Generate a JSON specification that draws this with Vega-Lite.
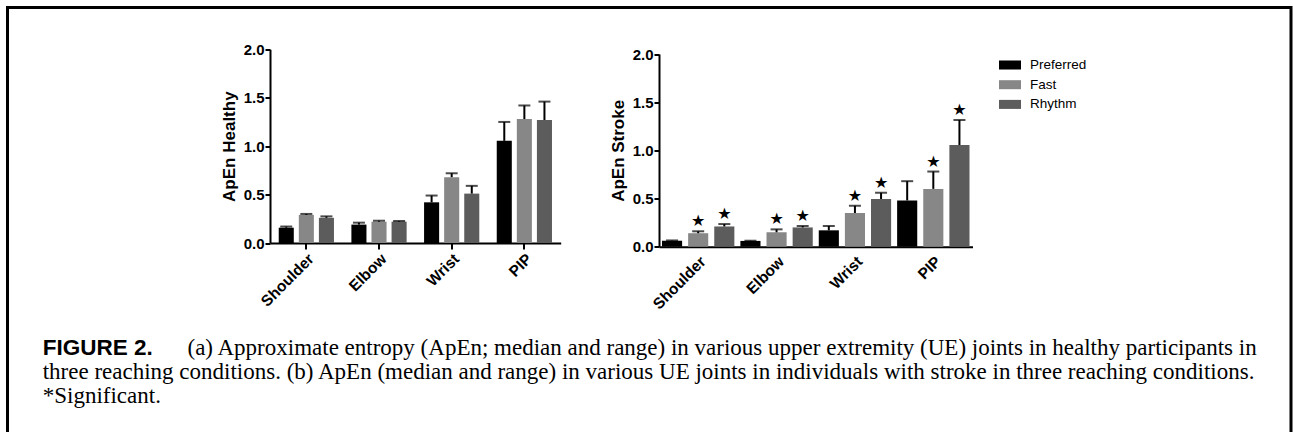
{
  "$schema": "https://vega.github.io/schema/vega-lite/v6.json",
  "width": 1283.5,
  "height": 428,
  "autosize": "none",
  "padding": {"left": 7.5, "top": 7.5, "right": 2, "bottom": 0},
  "background": "white",
  "config": {
    "view": {"stroke": "#000", "strokeWidth": 3},
    "axis": {
      "grid": false,
      "domainColor": "#000",
      "domainWidth": 2,
      "tickColor": "#000",
      "tickWidth": 2,
      "tickSize": 5,
      "labelFont": "Liberation Sans",
      "labelFontWeight": "bold",
      "labelColor": "#000",
      "titleFont": "Liberation Sans",
      "titleFontWeight": "bold",
      "titleColor": "#000"
    }
  },
  "datasets": {
    "healthy": [
      {"joint": "Shoulder", "condition": "Preferred", "median": 0.158, "max": 0.17},
      {"joint": "Shoulder", "condition": "Fast", "median": 0.29, "max": 0.30},
      {"joint": "Shoulder", "condition": "Rhythm", "median": 0.26, "max": 0.275},
      {"joint": "Elbow", "condition": "Preferred", "median": 0.19, "max": 0.21},
      {"joint": "Elbow", "condition": "Fast", "median": 0.22, "max": 0.23},
      {"joint": "Elbow", "condition": "Rhythm", "median": 0.22, "max": 0.227},
      {"joint": "Wrist", "condition": "Preferred", "median": 0.42, "max": 0.49},
      {"joint": "Wrist", "condition": "Fast", "median": 0.68, "max": 0.72},
      {"joint": "Wrist", "condition": "Rhythm", "median": 0.51, "max": 0.59},
      {"joint": "PIP", "condition": "Preferred", "median": 1.055, "max": 1.25},
      {"joint": "PIP", "condition": "Fast", "median": 1.28, "max": 1.42},
      {"joint": "PIP", "condition": "Rhythm", "median": 1.27, "max": 1.46}
    ],
    "stroke": [
      {"joint": "Shoulder", "condition": "Preferred", "median": 0.062, "max": 0.065, "star": ""},
      {"joint": "Shoulder", "condition": "Fast", "median": 0.14, "max": 0.16, "star": "★"},
      {"joint": "Shoulder", "condition": "Rhythm", "median": 0.21, "max": 0.235, "star": "★"},
      {"joint": "Elbow", "condition": "Preferred", "median": 0.06, "max": 0.062, "star": ""},
      {"joint": "Elbow", "condition": "Fast", "median": 0.15, "max": 0.18, "star": "★"},
      {"joint": "Elbow", "condition": "Rhythm", "median": 0.2, "max": 0.215, "star": "★"},
      {"joint": "Wrist", "condition": "Preferred", "median": 0.17, "max": 0.215, "star": ""},
      {"joint": "Wrist", "condition": "Fast", "median": 0.35, "max": 0.425, "star": "★"},
      {"joint": "Wrist", "condition": "Rhythm", "median": 0.495, "max": 0.56, "star": "★"},
      {"joint": "PIP", "condition": "Preferred", "median": 0.48, "max": 0.68, "star": ""},
      {"joint": "PIP", "condition": "Fast", "median": 0.6, "max": 0.78, "star": "★"},
      {"joint": "PIP", "condition": "Rhythm", "median": 1.055, "max": 1.315, "star": "★"}
    ],
    "caption": [
      {"line": 1, "kind": "lead", "text": "FIGURE 2."},
      {"line": 1, "kind": "body", "text": "(a) Approximate entropy (ApEn; median and range) in various upper extremity (UE) joints in healthy participants in"},
      {"line": 2, "kind": "body", "text": "three reaching conditions. (b) ApEn (median and range) in various UE joints in individuals with stroke in three reaching conditions."},
      {"line": 3, "kind": "body", "text": "*Significant."}
    ]
  },
  "layer": [
    {
      "data": {"name": "healthy"},
      "encoding": {
        "x": {
          "field": "joint", "type": "nominal",
          "sort": ["Shoulder", "Elbow", "Wrist", "PIP"],
          "scale": {"range": [262.5, 553.2], "paddingInner": 0.24, "paddingOuter": 0.12},
          "axis": {"orient": "bottom", "offset": -192.5, "title": null, "labelAngle": -45, "labelFontSize": 15.5, "tickSize": 6, "labelPadding": 2}
        },
        "xOffset": {
          "field": "condition", "type": "nominal",
          "sort": ["Preferred", "Fast", "Rhythm"],
          "scale": {"paddingInner": 0.25, "paddingOuter": 0}
        },
        "y": {
          "field": "median", "type": "quantitative",
          "scale": {"domain": [0, 2], "range": [235.5, 41.8], "nice": false, "zero": true},
          "axis": {"orient": "left", "offset": -262.5, "title": "ApEn Healthy", "values": [0, 0.5, 1, 1.5, 2], "format": ".1f", "labelFontSize": 15, "titleFontSize": 17, "labelPadding": 1, "titlePadding": 5}
        }
      },
      "layer": [
        {
          "mark": {"type": "bar"},
          "encoding": {
            "color": {
              "field": "condition", "type": "nominal",
              "scale": {"domain": ["Preferred", "Fast", "Rhythm"], "range": ["#000000", "#878787", "#5c5c5c"]},
              "legend": {
                "title": null, "orient": "none", "legendX": 991.5, "legendY": 46.5,
                "symbolType": "M-1,-0.41H1V0.41H-1Z", "symbolSize": 484, "symbolStrokeWidth": 0,
                "labelFont": "Liberation Sans", "labelFontSize": 13.5, "labelColor": "#000",
                "labelOffset": 9, "rowPadding": 1.7
              }
            }
          }
        },
        {
          "mark": {"type": "rule", "color": "#000", "strokeWidth": 2},
          "encoding": {"y2": {"field": "max"}}
        },
        {
          "mark": {"type": "tick", "orient": "horizontal", "color": "#000", "thickness": 2, "size": 12},
          "encoding": {"y": {"field": "max", "type": "quantitative"}}
        }
      ]
    },
    {
      "data": {"name": "stroke"},
      "encoding": {
        "x": {
          "field": "joint", "type": "nominal",
          "sort": ["Shoulder", "Elbow", "Wrist", "PIP"],
          "scale": {"range": [651.5, 965], "paddingInner": 0, "paddingOuter": 0},
          "axis": {"orient": "bottom", "offset": -188.8, "title": null, "labelAngle": -45, "labelFontSize": 15.5, "ticks": false, "labelPadding": 7}
        },
        "xOffset": {
          "field": "condition", "type": "nominal",
          "sort": ["Preferred", "Fast", "Rhythm"],
          "scale": {"paddingInner": 0.23, "paddingOuter": 0.115}
        },
        "y": {
          "field": "median", "type": "quantitative",
          "scale": {"domain": [0, 2], "range": [239.2, 46.5], "nice": false, "zero": true},
          "axis": {"orient": "left", "offset": -651.5, "title": "ApEn Stroke", "values": [0, 0.5, 1, 1.5, 2], "format": ".1f", "labelFontSize": 15, "titleFontSize": 17, "labelPadding": 1, "titlePadding": 5}
        }
      },
      "layer": [
        {
          "mark": {"type": "bar"},
          "encoding": {
            "color": {"field": "condition", "type": "nominal"}
          }
        },
        {
          "mark": {"type": "rule", "color": "#000", "strokeWidth": 2},
          "encoding": {"y2": {"field": "max"}}
        },
        {
          "mark": {"type": "tick", "orient": "horizontal", "color": "#000", "thickness": 2, "size": 12},
          "encoding": {"y": {"field": "max", "type": "quantitative"}}
        },
        {
          "mark": {"type": "text", "font": "DejaVu Sans", "fontSize": 16, "baseline": "alphabetic", "dy": -5, "color": "#000"},
          "encoding": {
            "y": {"field": "max", "type": "quantitative"},
            "text": {"field": "star"}
          }
        }
      ]
    },
    {
      "data": {"name": "caption"},
      "encoding": {
        "y": {"field": "line", "type": "quantitative", "scale": {"domain": [1, 3], "range": [347.5, 395.2], "nice": false, "zero": false}, "axis": null},
        "text": {"field": "text"}
      },
      "layer": [
        {
          "transform": [{"filter": "datum.kind === 'lead'"}],
          "mark": {"type": "text", "align": "left", "baseline": "alphabetic", "font": "Liberation Sans", "fontWeight": "bold", "fontSize": 22.5, "color": "#000"},
          "encoding": {"x": {"datum": 0, "type": "quantitative", "scale": {"domain": [0, 1], "range": [35.2, 1249.2], "nice": false, "zero": false}, "axis": null}}
        },
        {
          "transform": [{"filter": "datum.kind === 'body' && datum.line === 1"}],
          "mark": {"type": "text", "align": "right", "baseline": "alphabetic", "font": "Liberation Serif", "fontSize": 23, "color": "#000"},
          "encoding": {"x": {"datum": 1, "type": "quantitative"}}
        },
        {
          "transform": [{"filter": "datum.line > 1"}],
          "mark": {"type": "text", "align": "left", "baseline": "alphabetic", "font": "Liberation Serif", "fontSize": 23, "color": "#000"},
          "encoding": {"x": {"datum": 0, "type": "quantitative"}}
        }
      ]
    }
  ],
  "resolve": {
    "scale": {"x": "independent", "y": "independent", "xOffset": "independent"},
    "axis": {"x": "independent", "y": "independent"}
  }
}
